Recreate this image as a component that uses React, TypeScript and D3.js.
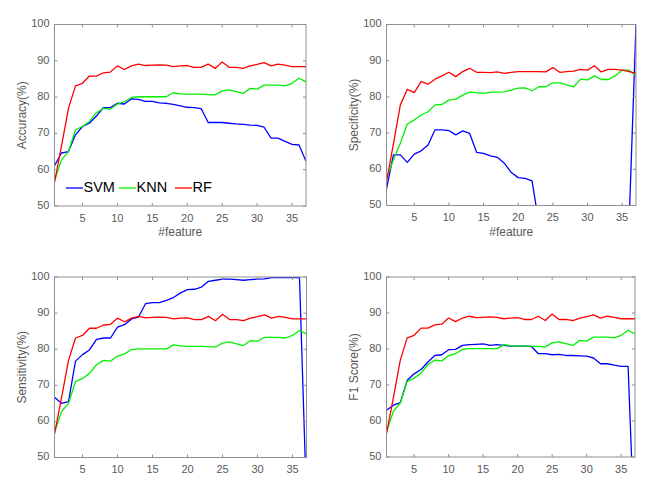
import React from "react";
import * as d3 from "d3";

const features = [1,2,3,4,5,6,7,8,9,10,11,12,13,14,15,16,17,18,19,20,21,22,23,24,25,26,27,28,29,30,31,32,33,34,35,36,37];
const xTicks = [5, 10, 15, 20, 25, 30, 35];
const yTicks = [50, 60, 70, 80, 90, 100];
const seriesNames = ["SVM", "KNN", "RF"];
const seriesColors = ["#0000ff", "#00f000", "#ff0000"];

const accSVM = [61.1,64.6,65,69.6,71.9,72.8,74.8,77.1,77.1,78.3,78.1,79.5,79.4,78.8,78.8,78.4,78.3,78,77.6,77.2,77.1,76.8,73,73,73,72.8,72.6,72.5,72.3,72.2,71.7,68.7,68.7,67.8,67,66.8,62.3];
const accKNN = [57,62.7,65,71,71.9,73.3,75.7,76.9,76.7,78.1,78.7,79.9,80.1,80.1,80.1,80.1,80.1,81.2,80.9,80.8,80.8,80.8,80.7,80.6,81.7,82,81.5,81,82.4,82.2,83.3,83.3,83.3,83.1,83.8,85.2,84.2];
const accRF = [56.5,66.5,76.9,83.1,83.8,85.8,85.8,86.7,86.9,88.6,87.6,88.6,89.1,88.7,88.8,88.9,88.8,88.4,88.6,88.7,88.2,88.2,89.1,87.9,89.7,88.2,88.2,87.9,88.6,89,89.5,88.6,89.1,88.8,88.4,88.4,88.4];

const specSVM = [54.6,64,64,61.9,64.2,65.1,66.7,70.9,70.9,70.7,69.5,70.6,69.9,64.7,64.4,63.7,63.3,61.7,59.1,57.7,57.5,56.8,45,40,38,36,35,34,34,33,32,31,30,30,30,45,100];
const specKNN = [57.5,62.6,67.2,72.5,73.6,75,75.9,77.8,77.9,79.1,79.4,80.5,81.3,81.2,81,81.3,81.3,81.4,81.9,82.4,82.5,81.7,82.8,82.8,83.9,83.9,83.3,82.8,84.9,84.7,85.8,84.8,84.8,85.8,87.4,87.4,85.8];
const specRF = [56.6,67,77.8,82.1,81.2,84.2,83.5,84.9,85.8,86.8,85.6,87,87.9,86.8,86.8,86.7,86.9,86.5,86.8,87,87,87,87,86.9,88.1,86.8,87,87.1,87.6,87.4,88.6,86.9,87.6,87.6,87.4,87,86.5];

const sensSVM = [66.7,65,65.5,76.7,78.5,79.8,82.7,83.1,83.1,86.1,86.8,88.4,88.9,92.6,92.9,92.9,93.5,94.3,95.6,96.5,96.6,97.2,98.8,99.1,99.4,99.4,99.3,99.1,99.3,99.4,99.5,99.8,99.8,99.8,99.8,99.8,38];
const sensKNN = accKNN;
const sensRF = accRF;

const f1SVM = [63,64.4,65.1,71.3,73.1,74.3,76.4,78.2,78.4,79.8,79.9,81,81.2,81.3,81.4,81,81.2,81,80.8,80.8,80.8,80.7,78.7,78.7,78.4,78.5,78.2,78.2,78.1,78,77.5,75.9,75.9,75.5,75.2,75.2,25];
const f1KNN = accKNN;
const f1RF = accRF;

const panels = [
  { id: "acc", ylabel: "Accuracy(%)", xlabel: "#feature", legend: true, box: [54.5, 306, 24.5, 206], data: [accSVM, accKNN, accRF] },
  { id: "spec", ylabel: "Specificity(%)", xlabel: "#feature", legend: false, box: [386.5, 636, 24.5, 205.5], data: [specSVM, specKNN, specRF] },
  { id: "sens", ylabel: "Sensitivity(%)", xlabel: "", legend: false, box: [54.5, 306.5, 277, 457.5], data: [sensSVM, sensKNN, sensRF] },
  { id: "f1", ylabel: "F1 Score(%)", xlabel: "", legend: false, box: [386.5, 635, 277, 457], data: [f1SVM, f1KNN, f1RF] },
];

const axisColor = "#8f8f8f";
const textColor = "#595959";
const font = "Liberation Sans, Arial, sans-serif";

function Panel({ p }: { p: any }) {
  const [l, r, t, b] = p.box;
  const x = d3.scaleLinear().domain([1, 37]).range([l, r]);
  const y = d3.scaleLinear().domain([50, 100]).range([b, t]);
  const line = d3.line<number>().x((_, i) => x(features[i])).y((v) => y(v));
  const clipId = "clip-" + p.id;
  const tl = 3;
  return (
    <g>
      <defs>
        <clipPath id={clipId}>
          <rect x={l} y={t} width={r - l} height={b - t} />
        </clipPath>
      </defs>
      <rect x={l} y={t} width={r - l} height={b - t} fill="#fff" />
      <g clipPath={`url(#${clipId})`}>
        {p.data.map((s: number[], i: number) => (
          <path key={i} d={line(s) || ""} fill="none" stroke={seriesColors[i]} strokeWidth={1.3} strokeLinejoin="round" />
        ))}
      </g>
      <rect x={l} y={t} width={r - l} height={b - t} fill="none" stroke={axisColor} strokeWidth={1} />
      {xTicks.map((v) => (
        <g key={"x" + v}>
          <line x1={x(v)} x2={x(v)} y1={b} y2={b - tl} stroke={axisColor} />
          <line x1={x(v)} x2={x(v)} y1={t} y2={t + tl} stroke={axisColor} />
          <text x={x(v)} y={b + 13} textAnchor="middle" dominantBaseline="middle" fontSize={11} fill={textColor} fontFamily={font}>{v}</text>
        </g>
      ))}
      {yTicks.map((v) => (
        <g key={"y" + v}>
          <line x1={l} x2={l + tl} y1={y(v)} y2={y(v)} stroke={axisColor} />
          <line x1={r} x2={r - tl} y1={y(v)} y2={y(v)} stroke={axisColor} />
          <text x={l - 5} y={y(v)} textAnchor="end" dominantBaseline="middle" fontSize={11} fill={textColor} fontFamily={font}>{v}</text>
        </g>
      ))}
      <text transform={`translate(${l - 32},${(t + b) / 2}) rotate(-90)`} textAnchor="middle" dominantBaseline="middle" fontSize={12} fill={textColor} fontFamily={font}>{p.ylabel}</text>
      {p.xlabel && (
        <text x={(l + r) / 2} y={b + 27} textAnchor="middle" dominantBaseline="middle" fontSize={12} fill={textColor} fontFamily={font}>{p.xlabel}</text>
      )}
      {p.legend && (
        <g>
          {seriesNames.map((n, i) => {
            const starts = [66, 119, 175];
            const sx = starts[i];
            return (
              <g key={n}>
                <line x1={sx} x2={sx + 17} y1={b - 18} y2={b - 18} stroke={seriesColors[i]} strokeWidth={1.3} />
                <text x={sx + 17.5} y={b - 18} dominantBaseline="middle" fontSize={14.5} fill="#000" fontFamily={font}>{n}</text>
              </g>
            );
          })}
        </g>
      )}
    </g>
  );
}

export default function App() {
  return (
    <svg width={645} height={477} style={{ position: "absolute", left: 0, top: 0, background: "#fff" }}>
      <rect x={0} y={0} width={645} height={477} fill="#fff" />
      {panels.map((p) => (
        <Panel key={p.id} p={p} />
      ))}
    </svg>
  );
}
